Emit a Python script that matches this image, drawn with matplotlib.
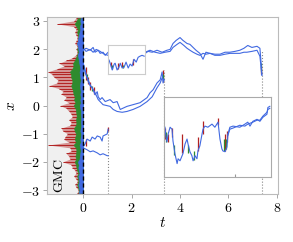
import numpy as np
import matplotlib
matplotlib.use("Agg")
import matplotlib.pyplot as plt
from matplotlib import rcParams

rcParams.update({
    "font.family": "serif",
    "font.serif": ["DejaVu Serif"],
    "mathtext.fontset": "cm",
    "font.size": 10,
})

BLUE = "#4169e1"
RED = "#b22222"
GREEN = "#2e8b2e"

# GMC profile (extent to the left of t=0) at levels x = -3.1 .. 3.1
gmc_red = [0.25, 0.2, 0.3, 0.35, 0.25, 0.3, 0.4, 0.3, 0.35, 0.45, 0.5, 0.85, 0.55, 0.6, 0.7, 0.5,
           0.55, 1.45, 0.6, 0.8, 0.75, 0.65, 0.85, 0.9, 0.55, 0.5, 0.6, 0.45, 0.5, 0.6, 0.7, 0.95,
           0.6, 0.8, 0.7, 0.9, 0.85, 1.0, 1.42, 1.1, 1.05, 1.2, 1.3, 1.44, 1.1, 0.8, 1.0, 0.7,
           0.45, 0.3, 0.25, 0.3, 0.25, 0.35, 0.3, 0.25, 0.3, 0.35, 0.3, 0.4, 1.1, 0.4, 0.3]
gmc_green = [0.2, 0.18, 0.22, 0.25, 0.2, 0.22, 0.25, 0.2, 0.25, 0.28, 0.3, 0.35, 0.3, 0.32, 0.3, 0.28,
             0.3, 0.4, 0.3, 0.35, 0.32, 0.3, 0.35, 0.38, 0.3, 0.28, 0.3, 0.27, 0.28, 0.3, 0.32, 0.4,
             0.32, 0.38, 0.35, 0.4, 0.42, 0.45, 0.5, 0.45, 0.45, 0.5, 0.5, 0.55, 0.45, 0.4, 0.42, 0.35,
             0.3, 0.25, 0.22, 0.25, 0.22, 0.25, 0.22, 0.2, 0.22, 0.25, 0.22, 0.28, 0.35, 0.28, 0.22]
gmc_blue = [0.18, 0.15, 0.18, 0.2, 0.16, 0.18, 0.2, 0.15, 0.18, 0.2, 0.18, 0.22, 0.15, 0.14, 0.12, 0.1,
            0.12, 0.15, 0.1, 0.12, 0.1, 0.09, 0.12, 0.1, 0.08, 0.1, 0.09, 0.08, 0.1, 0.09, 0.12, 0.14,
            0.1, 0.12, 0.1, 0.12, 0.1, 0.12, 0.14, 0.12, 0.1, 0.12, 0.14, 0.15, 0.12, 0.14, 0.16, 0.18,
            0.2, 0.22, 0.18, 0.2, 0.22, 0.25, 0.22, 0.2, 0.18, 0.15, 0.12, 0.14, 0.1, 0.12, 0.1]
gmc_y = np.linspace(-3.1, 3.1, len(gmc_red))

# upper pair of paths
top_a_t = [0, 0.12, 0.29, 0.41, 0.49, 0.62, 0.70, 0.82, 0.91, 1.03, 1.20, 1.53, 1.86, 2.19, 2.43,
           2.56, 2.68, 2.85, 3.05, 3.26, 3.46, 3.59, 3.71, 3.84, 4.00, 4.12, 4.29, 4.41, 4.54, 4.66,
           4.82, 4.95, 5.07, 5.24, 5.44, 5.65, 5.86, 6.06, 6.27, 6.47, 6.64, 6.80, 6.97, 7.18, 7.30,
           7.34, 7.38]
top_a_x = [1.96, 2.03, 1.96, 2.06, 1.89, 1.96, 1.85, 1.89, 1.78, 1.89, 1.82, 1.75, 1.82, 1.78, 1.89,
           1.85, 1.92, 1.89, 1.96, 1.89, 1.96, 1.99, 2.20, 2.31, 2.41, 2.31, 2.20, 2.17, 2.06, 1.96,
           1.85, 1.64, 1.89, 1.85, 1.82, 1.82, 1.89, 1.89, 1.92, 1.96, 2.03, 2.13, 2.06, 2.10, 2.03,
           1.61, 1.08]
top_b_t = [0, 0.12, 0.29, 0.41, 0.54, 0.70, 0.87, 1.03, 1.40, 1.77, 2.10, 2.43, 2.56, 2.76, 2.97,
           3.18, 3.38, 3.59, 3.71, 3.88, 4.00, 4.16, 4.29, 4.41, 4.54, 4.70, 4.82, 4.95, 5.07, 5.24,
           5.44, 5.65, 5.86, 6.06, 6.27, 6.47, 6.64, 6.76, 6.97, 7.18, 7.30, 7.38]
top_b_x = [2.03, 1.92, 1.99, 1.89, 1.99, 1.92, 1.82, 1.78, 1.71, 1.78, 1.75, 1.82, 1.89, 1.96, 1.89,
           1.85, 1.89, 1.92, 2.06, 2.17, 2.24, 2.13, 2.03, 1.96, 1.89, 1.82, 1.78, 1.85, 1.82, 1.85,
           1.78, 1.78, 1.82, 1.85, 1.85, 1.85, 1.89, 1.89, 1.92, 1.96, 1.75, 1.08]

# middle pair
mid_a_t = [0, 0.08, 0.16, 0.21, 0.29, 0.41, 0.49, 0.58, 0.62, 0.70, 0.78, 0.91, 1.11, 1.24, 1.40,
           1.53, 1.81, 2.06, 2.35, 2.64, 2.76, 2.89, 3.05, 3.18, 3.26, 3.30, 3.34]
mid_a_x = [1.50, 1.15, 1.01, 0.91, 0.73, 0.56, 0.38, 0.49, 0.31, 0.21, 0.28, 0.14, 0.21, 0.10, 0.14,
           -0.14, -0.03, 0.03, 0.10, 0.28, 0.45, 0.56, 0.80, 0.91, 1.19, 0.80, 0.91]
mid_b_t = [0, 0.08, 0.16, 0.21, 0.29, 0.37, 0.49, 0.62, 0.82, 1.11, 1.24, 1.40, 1.61, 1.81, 2.06,
           2.35, 2.64, 2.85, 3.05, 3.18, 3.26, 3.34]
mid_b_x = [1.50, 1.26, 0.98, 0.84, 0.70, 0.63, 0.45, 0.21, 0.03, -0.03, -0.14, -0.21, -0.24, -0.21,
           -0.14, -0.03, 0.14, 0.31, 0.63, 0.80, 0.98, 0.91]

# lower short pair
low_a_t = [0, 0.08, 0.16, 0.29, 0.37, 0.49, 0.58, 0.70, 0.78, 0.82, 0.99, 1.03]
low_a_x = [-1.47, -1.36, -1.19, -1.26, -1.12, -1.19, -1.08, -1.12, -1.26, -1.08, -1.01, -0.84]
low_b_t = [0, 0.16, 0.29, 0.41, 0.58, 0.70, 0.82, 0.99, 1.03]
low_b_x = [-1.50, -1.57, -1.64, -1.61, -1.68, -1.75, -1.71, -1.78, -1.78]

# zoomed path in the small box
zs_t = [1.07, 1.15, 1.20, 1.28, 1.32, 1.40, 1.48, 1.53, 1.61, 1.69, 1.77, 1.86, 1.94, 2.02, 2.10,
        2.19, 2.27, 2.35, 2.43, 2.52]
zs_x = [1.61, 1.40, 1.26, 1.47, 1.50, 1.26, 1.36, 1.50, 1.33, 1.36, 1.54, 1.33, 1.47, 1.40, 1.64,
        1.54, 1.71, 1.75, 1.78, 1.75]

# zoomed path in the large box
zl_t = [3.38, 3.42, 3.46, 3.51, 3.59, 3.67, 3.71, 3.79, 3.88, 3.92, 4.00, 4.12, 4.21, 4.29, 4.33,
        4.41, 4.49, 4.54, 4.62, 4.70, 4.74, 4.82, 4.91, 4.95, 5.03, 5.15, 5.32, 5.44, 5.57, 5.65,
        5.73, 5.77, 5.86, 5.94, 5.98, 6.06, 6.19, 6.47, 6.68, 6.80, 6.89, 7.01, 7.18, 7.30, 7.42,
        7.59, 7.63, 7.71]
zl_x = [-0.77, -1.12, -1.29, -1.01, -0.77, -0.84, -1.26, -1.71, -2.06, -1.89, -1.96, -1.71, -1.36,
        -1.19, -1.36, -1.64, -1.78, -1.96, -1.78, -1.89, -1.61, -1.43, -1.01, -0.84, -0.73, -0.77,
        -0.66, -0.77, -0.59, -1.19, -1.54, -1.61, -1.64, -1.47, -1.01, -0.77, -0.73, -0.77, -0.66,
        -0.59, -0.73, -0.56, -0.49, -0.56, -0.42, -0.31, -0.07, -0.03]
zl2_t = [5.98, 6.06, 6.19, 6.47, 6.68, 6.80, 6.89, 7.01, 7.18, 7.30, 7.42, 7.59, 7.63, 7.71]
zl2_x = [-1.05, -0.84, -0.80, -0.70, -0.73, -0.66, -0.63, -0.59, -0.52, -0.52, -0.38, -0.24, -0.14, -0.10]

# red / green traces peeking out under the blue paths: (t, low, high)
red_spk_t = [0.12, 0.20, 0.30, 0.45, 3.30, 7.36, 1.03, 0.10]
red_spk_lo = [0.90, 0.75, 0.55, 0.40, 0.85, 1.10, -0.90, -1.45]
red_spk_hi = [1.35, 1.00, 0.85, 0.65, 1.26, 1.40, -0.77, -1.20]
grn_spk_t = [0.15, 0.35, 3.28, 7.35]
grn_spk_lo = [0.90, 0.50, 0.90, 1.20]
grn_spk_hi = [1.10, 0.70, 1.10, 1.50]

zs_red_t = [1.15, 1.45, 1.60, 2.05]
zs_red_lo = [1.35, 1.30, 1.35, 1.45]
zs_red_hi = [1.55, 1.50, 1.55, 1.65]
zs_grn_t = [1.20, 1.65]
zs_grn_lo = [1.30, 1.33]
zs_grn_hi = [1.45, 1.45]

zl_red_t = [3.40, 3.50, 3.67, 4.08, 4.75, 4.93, 5.57, 5.85, 5.95]
zl_red_lo = [-1.20, -1.30, -1.10, -1.70, -1.60, -1.00, -0.70, -1.60, -1.30]
zl_red_hi = [-0.80, -1.00, -0.80, -1.00, -1.10, -0.55, -0.45, -1.00, -0.90]
zl_grn_t = [3.44, 3.75, 4.35, 4.58, 5.80, 5.90]
zl_grn_lo = [-1.30, -1.75, -1.70, -1.95, -1.60, -1.55]
zl_grn_hi = [-0.95, -1.40, -1.40, -1.60, -1.20, -1.20]

# dotted markers at the stopping times
stop_t = [1.03, 3.34, 7.38]
stop_top = [-0.84, 1.26, 1.96]

fig = plt.figure(figsize=(2.93, 2.42), dpi=100)
ax = fig.add_axes([0.160, 0.198, 0.789, 0.732])
xmin, xmax = -1.5, 8.05
ymin, ymax = -np.pi, np.pi

# GMC measures drawn to the left of t = 0
ax.axvspan(xmin, 0, color="#f0f0f0", lw=0, zorder=0)
ax.fill_betweenx(gmc_y, -np.array(gmc_red), 0, color=RED, lw=0, alpha=0.45, zorder=1)
ax.hlines(gmc_y, -np.array(gmc_red), 0, colors=RED, lw=0.7, zorder=1)
ax.fill_betweenx(gmc_y, -np.array(gmc_green), 0, color=GREEN, lw=0.4, zorder=2)
ax.fill_betweenx(gmc_y, -np.array(gmc_blue), 0, color=BLUE, lw=0.4, zorder=3)
ax.axvline(0, color="k", ls="--", lw=1.0, dashes=(3, 2), zorder=6)

ax.vlines(stop_t, ymin, stop_top, colors="#888888", linestyles=":", lw=0.8, zorder=2)
ax.vlines(red_spk_t, red_spk_lo, red_spk_hi, colors=RED, lw=0.9, zorder=3)
ax.vlines(grn_spk_t, grn_spk_lo, grn_spk_hi, colors=GREEN, lw=0.9, zorder=3)
for tt, xx in [(top_a_t, top_a_x), (top_b_t, top_b_x), (mid_a_t, mid_a_x),
               (mid_b_t, mid_b_x), (low_a_t, low_a_x), (low_b_t, low_b_x)]:
    ax.plot(tt, xx, color=BLUE, lw=0.8, zorder=4)

ax.set_xlim(xmin, xmax)
ax.set_ylim(ymin, ymax)
ax.set_xticks([0, 2, 4, 6, 8], labels=[r"$%d$" % v for v in [0, 2, 4, 6, 8]])
ax.set_yticks([-3, -2, -1, 0, 1, 2, 3], labels=[r"$%d$" % v for v in [-3, -2, -1, 0, 1, 2, 3]])
ax.tick_params(length=3, width=0.6, color="#999999", labelsize=10, pad=2)
for s in ax.spines.values():
    s.set_color("#bbbbbb")
    s.set_linewidth(0.8)
ax.set_xlabel(r"$t$", fontsize=11, labelpad=1)
ax.set_ylabel(r"$x$", fontsize=11, labelpad=2)
ax.text(-1.0, -2.5, r"$\mathrm{GMC}$", rotation=90, ha="center", va="center", fontsize=10, zorder=7)

# small zoom box
axs = ax.inset_axes([1.03, 1.12, 1.53, 1.01], transform=ax.transData, zorder=5)
axs.vlines(zs_red_t, zs_red_lo, zs_red_hi, colors=RED, lw=0.9)
axs.vlines(zs_grn_t, zs_grn_lo, zs_grn_hi, colors=GREEN, lw=0.9)
axs.plot(zs_t, zs_x, color=BLUE, lw=0.8)
axs.set_xlim(1.03, 2.56)
axs.set_ylim(1.12, 2.13)
axs.set_xticks([])
axs.set_yticks([])
for s in axs.spines.values():
    s.set_color("#cccccc")
    s.set_linewidth(0.8)

# large zoom box
axl = ax.inset_axes([3.34, -2.52, 4.41, 2.83], transform=ax.transData, zorder=5)
axl.vlines(zl_red_t, zl_red_lo, zl_red_hi, colors=RED, lw=0.9)
axl.vlines(zl_grn_t, zl_grn_lo, zl_grn_hi, colors=GREEN, lw=0.9)
axl.plot(zl_t, zl_x, color=BLUE, lw=0.8)
axl.plot(zl2_t, zl2_x, color=BLUE, lw=0.8)
axl.set_xlim(3.34, 7.75)
axl.set_ylim(-2.52, 0.31)
axl.set_xticks([6.27], labels=[""])
axl.set_yticks([])
axl.tick_params(direction="in", length=2, color="#999999")
for s in axl.spines.values():
    s.set_color("#aaaaaa")
    s.set_linewidth(0.8)

fig.savefig("out.png", dpi=100)
